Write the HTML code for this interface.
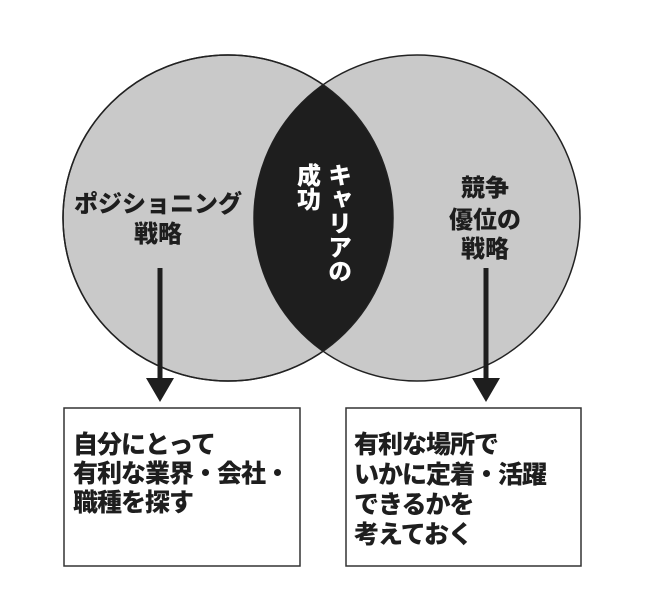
<!DOCTYPE html>
<html><head><meta charset="utf-8"><style>
html,body{margin:0;padding:0;background:#fff;}
svg text{font-family:"Liberation Sans","Noto Sans CJK JP",sans-serif;font-weight:900;}
</style></head><body>
<svg width="650" height="593" viewBox="0 0 650 593" xmlns="http://www.w3.org/2000/svg">
<defs>
<clipPath id="cl"><ellipse cx="228" cy="218" rx="165" ry="163"/></clipPath>
</defs>
<ellipse cx="228" cy="218" rx="165" ry="163" fill="#c9c9c9" stroke="#222" stroke-width="1.5"/>
<ellipse cx="417" cy="218" rx="163" ry="163" fill="#c9c9c9" stroke="#222" stroke-width="1.5"/>
<ellipse cx="417" cy="218" rx="163" ry="163" fill="#1e1e1e" clip-path="url(#cl)"/>
<ellipse cx="228" cy="218" rx="165" ry="163" fill="none" stroke="#222" stroke-width="1.5"/>
<g font-size="24" fill="#1e1e1e" text-anchor="middle">
<text x="158" y="212">ポジショニング</text>
<text x="158" y="242">戦略</text>
<text x="485" y="196">競争</text>
<text x="485" y="228">優位の</text>
<text x="485" y="257">戦略</text>
</g>
<g font-size="24" fill="#fff">
<text x="337" y="163" style="writing-mode:tb">キャリアの</text>
<text x="306" y="163" style="writing-mode:tb">成功</text>
</g>
<line x1="160" y1="268" x2="160" y2="380" stroke="#1e1e1e" stroke-width="5"/>
<polygon points="146,378 174,378 160,402" fill="#1e1e1e"/>
<line x1="486" y1="268" x2="486" y2="380" stroke="#1e1e1e" stroke-width="5"/>
<polygon points="472,378 500,378 486,402" fill="#1e1e1e"/>
<rect x="64" y="408" width="236" height="158" fill="#fff" stroke="#333" stroke-width="1.5"/>
<rect x="346" y="408" width="235" height="158" fill="#fff" stroke="#333" stroke-width="1.5"/>
<g font-size="25" fill="#1e1e1e" letter-spacing="-1">
<text x="73" y="453">自分にとって</text>
<text x="73" y="482">有利な業界・会社・</text>
<text x="73" y="511">職種を探す</text>
<text x="354" y="453">有利な場所で</text>
<text x="354" y="483">いかに定着・活躍</text>
<text x="354" y="513">できるかを</text>
<text x="354" y="543">考えておく</text>
</g>
</svg>
</body></html>
